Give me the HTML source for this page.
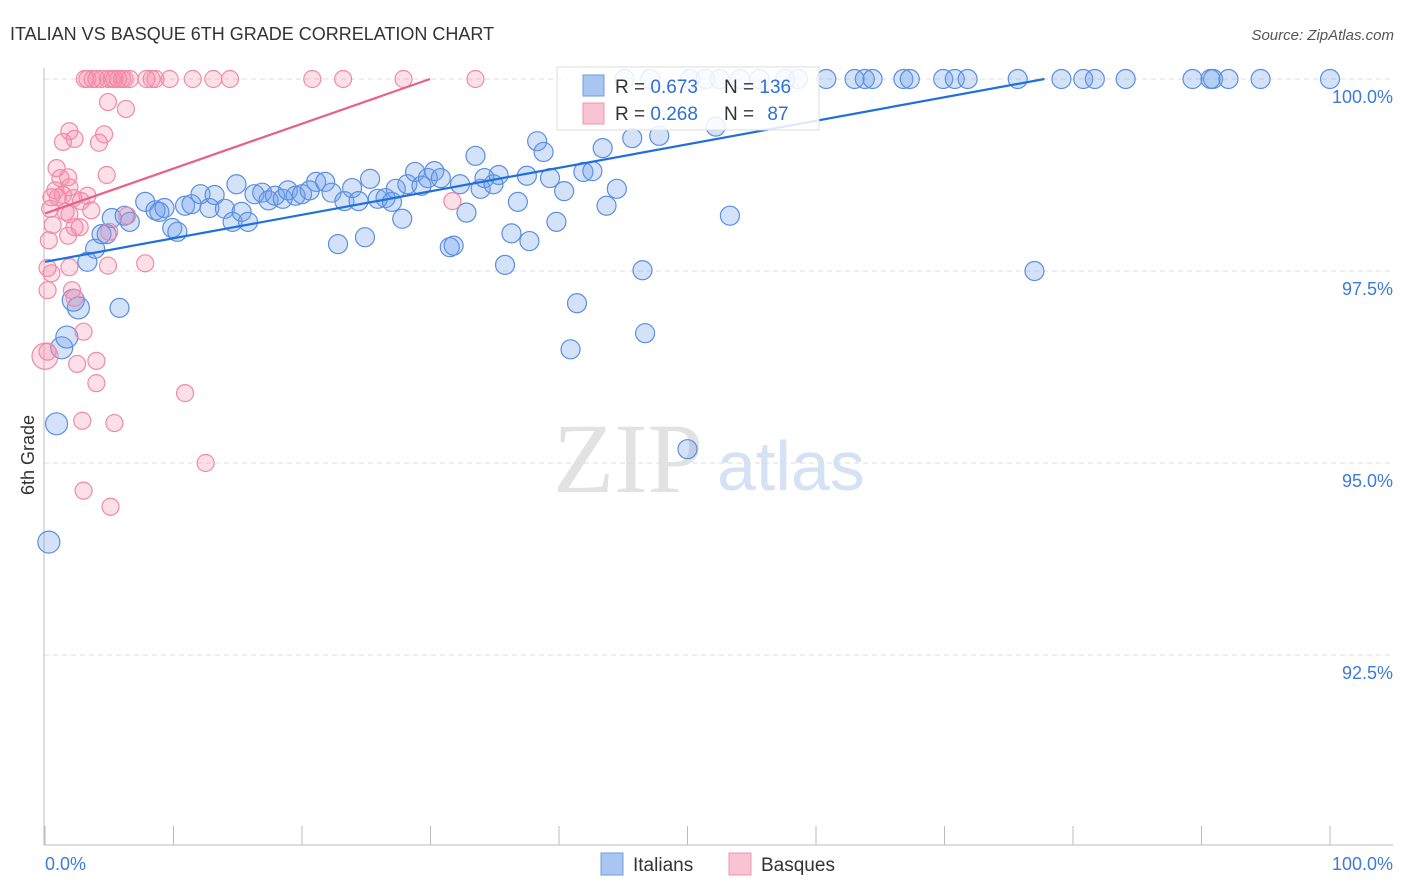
<!DOCTYPE html>
<html><head><meta charset="utf-8"><style>
body{margin:0;background:#fff;font-family:"Liberation Sans",sans-serif}
svg{display:block}
</style></head><body>
<svg id="chart" width="1406" height="892">
<text x="10" y="40" font-size="18" fill="#333">ITALIAN VS BASQUE 6TH GRADE CORRELATION CHART</text>
<text x="1394" y="40" font-size="15" fill="#555" font-style="italic" text-anchor="end">Source: ZipAtlas.com</text>
<text transform="translate(34,455) rotate(-90)" font-size="18" fill="#333" text-anchor="middle">6th Grade</text>
<g>
<text x="553" y="492" font-family="Liberation Serif,serif" font-size="100" fill="#e2e2e2">ZIP</text>
<text x="717" y="490" font-size="70" fill="#d5e2f5">atlas</text>
</g>
<g id="grid"></g><g id="axes"></g><g id="pts"></g><g id="lines"></g>
<g>
<rect x="557" y="67" width="262" height="63" fill="rgba(255,255,255,0.85)" stroke="#ddd"/>
<rect x="583" y="75" width="21" height="21" fill="#a9c6f0" stroke="#6d9be3"/>
<rect x="583" y="103" width="21" height="21" fill="#f8c3d2" stroke="#f094b0"/>
<text x="615" y="93" font-size="19" fill="#333">R = <tspan fill="#2f6fd6">0.673</tspan></text>
<text x="724" y="93" font-size="19" fill="#333">N = <tspan fill="#2f6fd6">136</tspan></text>
<text x="615" y="120" font-size="19" fill="#333">R = <tspan fill="#2f6fd6">0.268</tspan></text>
<text x="724" y="120" font-size="19" fill="#333">N = <tspan fill="#2f6fd6" dx="8">87</tspan></text>
</g>
<g>
<rect x="601" y="853" width="22" height="22" fill="#a9c6f0" stroke="#6d9be3"/>
<text x="633" y="871" font-size="19" fill="#333">Italians</text>
<rect x="729" y="853" width="22" height="22" fill="#f8c3d2" stroke="#f094b0"/>
<text x="761" y="871" font-size="19" fill="#333">Basques</text>
</g>
<text x="45" y="870" font-size="18" fill="#3d7bd8">0.0%</text>
<text x="1393" y="870" font-size="18" fill="#3d7bd8" text-anchor="end">100.0%</text>
</svg>
<script>
const yTicks=[100,97.5,95,92.5];
const yTickLabels=["100.0%","97.5%","95.0%","92.5%"];
const xTicks=[0,10,20,30,40,50,60,70,80,90,100];
const blueX=[0.3,0.9,1.3,1.7,2.6,2.2,5.8,3.3,3.9,4.4,4.8,5.2,6.6,6.2,7.8,8.6,8.9,9.3,9.9,10.3,10.9,11.4,12.1,12.8,13.2,14.0,14.6,14.9,15.3,15.8,16.3,16.9,17.4,17.9,18.5,18.9,19.5,20.0,20.6,21.1,21.8,22.3,22.8,23.3,23.9,24.4,24.9,25.3,25.9,26.5,27.0,27.3,27.8,28.2,28.8,29.3,29.8,30.3,30.8,31.5,31.8,32.3,32.8,33.5,33.9,34.2,34.9,35.3,35.8,36.3,36.8,37.5,37.7,38.3,38.8,39.3,39.8,40.4,40.9,41.4,41.9,42.6,43.4,43.7,44.5,45.7,46.5,46.7,47.8,50.0,52.2,53.3,77.0,45.1,47.1,50.2,51.4,52.5,54.1,55.6,57.6,58.6,60.8,63.0,63.8,64.4,66.8,67.3,69.9,70.8,71.8,75.7,79.1,80.8,81.7,84.1,89.3,90.7,90.9,92.1,94.6,100];
const blueY=[93.97,95.51,96.50,96.64,97.02,97.12,97.02,97.62,97.79,97.98,97.98,98.19,98.14,98.22,98.40,98.29,98.27,98.32,98.06,98.01,98.35,98.37,98.50,98.32,98.49,98.31,98.14,98.63,98.27,98.14,98.50,98.52,98.42,98.48,98.44,98.55,98.48,98.50,98.55,98.66,98.66,98.52,97.85,98.41,98.58,98.41,97.94,98.70,98.44,98.45,98.40,98.57,98.18,98.63,98.79,98.61,98.71,98.80,98.71,97.81,97.83,98.63,98.26,99.00,98.57,98.71,98.63,98.75,97.58,97.99,98.40,98.74,97.89,99.19,99.05,98.71,98.14,98.54,96.48,97.08,98.79,98.80,99.10,98.35,98.57,99.23,97.51,96.69,99.26,95.18,99.38,98.22,97.50,100,100,100,100,100,100,100,100,100,100,100,100,100,100,100,100,100,100,100,100,100,100,100,100,100,100,100,100,100];
const pinkX=[3.1,3.3,3.7,4.0,4.4,4.9,5.2,5.4,5.7,6.0,6.2,6.6,7.9,8.3,8.6,9.7,11.5,13.1,14.4,20.8,23.2,27.9,33.5,4.9,6.3,1.9,4.6,2.3,1.4,4.2,0.9,1.2,1.8,4.8,0.8,1.0,1.4,1.9,0.5,3.3,2.8,3.6,2.2,0.4,1.6,1.9,2.3,2.7,5.0,0.6,6.4,1.8,0.3,7.8,0.2,0.5,4.9,1.9,0.2,2.1,2.3,3.0,4.0,0.2,0.0,2.5,4.0,10.9,2.9,5.4,12.5,3.0,5.1,31.7];
const pinkY=[100,100,100,100,100,100,100,100,100,100,100,100,100,100,100,100,100,100,100,100,100,100,100,99.70,99.61,99.32,99.28,99.22,99.18,99.17,98.84,98.71,98.72,98.75,98.55,98.46,98.49,98.59,98.46,98.48,98.41,98.29,98.45,98.31,98.27,98.24,98.07,98.07,98.01,98.10,98.22,97.96,97.90,97.60,97.54,97.47,97.57,97.55,97.25,97.25,97.15,96.71,96.33,96.45,96.39,96.29,96.04,95.91,95.55,95.52,95.00,94.64,94.43,98.41];
const blueTrend=[97.62,0.0306];
const pinkTrend=[98.25,0.0584];

const NS="http://www.w3.org/2000/svg";
const X=v=>45+v*12.85;
const Y=v=>79+(100-v)*76.8;
function mk(tag,attrs,parent){const e=document.createElementNS(NS,tag);for(const k in attrs)e.setAttribute(k,attrs[k]);parent.appendChild(e);return e;}
const grid=document.getElementById('grid'),axes=document.getElementById('axes'),pts=document.getElementById('pts'),lines=document.getElementById('lines');
yTicks.forEach((t,i)=>{
  const l=mk('line',{x1:44,x2:1393,y1:Y(t),y2:Y(t),stroke:'#ddd','stroke-dasharray':'5,4'},grid);
  
  
  const tx=mk('text',{x:1393,y:Y(t)+24,'font-size':18,fill:'#3d7bd8','text-anchor':'end'},grid);
  tx.textContent=yTickLabels[i];
  
  
});
const ya=mk('line',{x1:44,x2:44,y1:68,y2:845,stroke:'#bbb'},axes);


const xa=mk('line',{x1:44,x2:1393,y1:845,y2:845,stroke:'#bbb'},axes);


xTicks.forEach(t=>{
  const l=mk('line',{x1:X(t),x2:X(t),y1:826,y2:845,stroke:'#bbb'},axes);
  
  
});
blueX.forEach((v,i)=>{
  const c=mk('circle',{cx:X(v),cy:Y(blueY[i]),r:i<6?11:9.5,fill:'rgba(110,160,235,0.3)',stroke:'#5b8fe0','stroke-width':1.2},pts);
  
  
});
pinkX.forEach((v,i)=>{
  const c=mk('circle',{cx:X(v),cy:Y(pinkY[i]),r:v===0?13:8.5,fill:'rgba(245,140,170,0.28)',stroke:'#f08aa8','stroke-width':1.2},pts);
  
  
});
function trend(tr,color,name){
  const xe=Math.min(100,(100-tr[0])/tr[1]);
  const l=mk('line',{x1:X(0),y1:Y(tr[0]),x2:X(xe),y2:Y(tr[0]+tr[1]*xe),stroke:color,'stroke-width':2.2},lines);
  
  
}
trend(blueTrend,'#1f6fdc','italians-trend-line');
trend(pinkTrend,'#e8608a','basques-trend-line');
</script>
</body></html>
